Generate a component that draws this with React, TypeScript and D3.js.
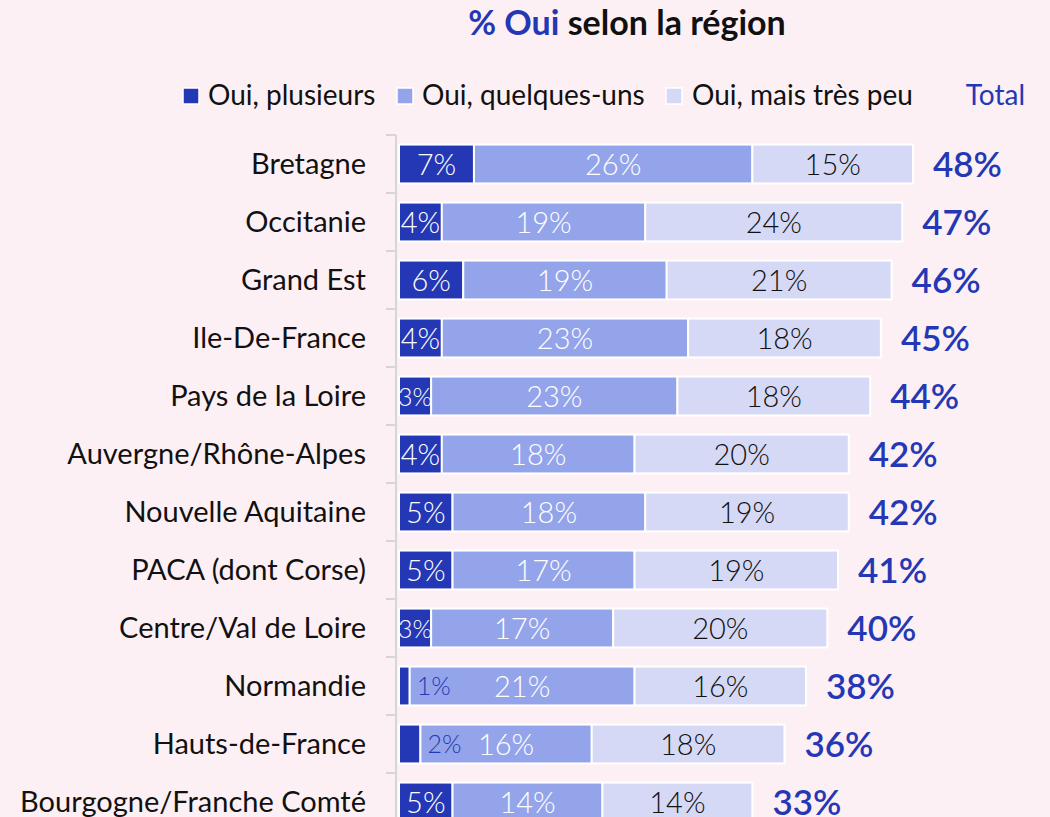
import React from "react";
import * as d3 from "d3";

const regions = [
  "Bretagne",
  "Occitanie",
  "Grand Est",
  "Ile-De-France",
  "Pays de la Loire",
  "Auvergne/Rhône-Alpes",
  "Nouvelle Aquitaine",
  "PACA (dont Corse)",
  "Centre/Val de Loire",
  "Normandie",
  "Hauts-de-France",
  "Bourgogne/Franche Comté",
];
const plusieurs = [7, 4, 6, 4, 3, 4, 5, 5, 3, 1, 2, 5];
const quelques = [26, 19, 19, 23, 23, 18, 18, 17, 17, 21, 16, 14];
const tresPeu = [15, 24, 21, 18, 18, 20, 19, 19, 20, 16, 18, 14];
const totals = [48, 47, 46, 45, 44, 42, 42, 41, 40, 38, 36, 33];
const seriesNames = ["Oui, plusieurs", "Oui, quelques-uns", "Oui, mais très peu"];

const W = 1050;
const H = 817;
const BG = "#fdf0f4";
const DARK = "#2438b5";
const MID = "#94a4ea";
const LIGHT = "#d5d9f5";
const FONT = "Lato, 'Open Sans', sans-serif";

export default function App() {
  const x = d3.scaleLinear().domain([0, 48]).range([399, 913]);
  const y = d3.scaleBand<string>().domain(regions).range([135, 831]).paddingInner(0.33).paddingOuter(0.165);
  const step = y.step();
  const colors = [DARK, MID, LIGHT];
  const series = [plusieurs, quelques, tresPeu];

  const rows = regions.map((r, i) => {
    let acc = 0;
    const segs = series.map((s, k) => {
      const v = s[i];
      const x0 = x(acc);
      acc += v;
      const x1 = x(acc);
      return { k, v, x0, x1 };
    });
    return { r, i, segs };
  });

  const legendItems = [
    { sx: 183, tx: 208, color: DARK, label: seriesNames[0] },
    { sx: 397, tx: 422, color: MID, label: seriesNames[1] },
    { sx: 666, tx: 692, color: LIGHT, label: seriesNames[2] },
  ];

  return (
    <svg width={W} height={H} style={{ position: "absolute", left: 0, top: 0, display: "block" }}>
      <rect x={0} y={0} width={W} height={H} fill={BG} />
      <text x={627} y={35} textAnchor="middle" fontFamily={FONT} fontSize={34} fontWeight={700} fill="#111">
        <tspan fill={DARK}>% Oui</tspan>
        <tspan> selon la région</tspan>
      </text>
      {legendItems.map((l, i) => (
        <g key={i}>
          <rect x={l.sx} y={88} width={16} height={16} fill={l.color} stroke="#fff" strokeWidth={1.5} />
          <text x={l.tx} y={105} fontFamily={FONT} fontSize={28} fill="#111">
            {l.label}
          </text>
        </g>
      ))}
      <text x={1025} y={105} textAnchor="end" fontFamily={FONT} fontSize={28} fill={DARK}>
        Total
      </text>
      {/* axis */}
      <line x1={396} x2={396} y1={135} y2={H} stroke="#d6d6d6" strokeWidth={2} />
      {regions.map((r) => {
        const t = (y(r) as number) - y.paddingInner() * step * 0.5;
        return <line key={r} x1={386} x2={396} y1={t} y2={t} stroke="#d6d6d6" strokeWidth={2} />;
      })}
      {rows.map(({ r, i, segs }) => {
        const y0 = y(r) as number;
        const bh = y.bandwidth();
        const cy = y0 + bh / 2;
        return (
          <g key={r}>
            <text x={366} y={cy + 10} textAnchor="end" fontFamily={FONT} fontSize={29} fill="#111">
              {r}
            </text>
            {segs.map((s) => (
              <rect key={s.k} x={s.x0} y={y0} width={s.x1 - s.x0} height={bh} fill={colors[s.k]} stroke="#fff" strokeWidth={2} />
            ))}
            {segs.map((s) => {
              if (s.k === 0 && s.v <= 2) {
                return (
                  <text key={"l" + s.k} x={s.x1 + 24} y={cy + 9} textAnchor="middle" fontFamily={FONT} fontWeight={300} fontSize={25} fill={DARK}>
                    {s.v}%
                  </text>
                );
              }
              const small = s.k === 0 && s.v === 3;
              return (
                <text
                  key={"l" + s.k}
                  x={(s.x0 + s.x1) / 2}
                  y={cy + (small ? 10 : 11)}
                  textAnchor="middle"
                  fontFamily={FONT}
                  fontWeight={300}
                  fontSize={small ? 25 : 29}
                  fill={s.k === 2 ? "#111" : "#fff"}
                >
                  {s.v}%
                </text>
              );
            })}
            <text x={x(totals[i]) + 20} y={cy + 13} fontFamily={FONT} fontSize={35} fontWeight={600} fill={DARK}>
              {totals[i]}%
            </text>
          </g>
        );
      })}
    </svg>
  );
}
